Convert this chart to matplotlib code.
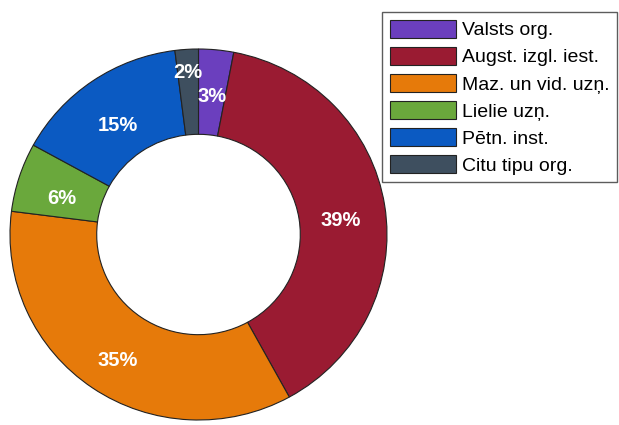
import matplotlib
matplotlib.use("Agg")
import numpy as np
import matplotlib.pyplot as plt

plt.rcParams['font.family'] = ['Liberation Sans', 'DejaVu Sans']

labels = ["Valsts org.", "Augst. izgl. iest.", "Maz. un vid. uzņ.",
          "Lielie uzņ.", "Pētn. inst.", "Citu tipu org."]
shares = [3, 39, 35, 6, 15, 2]
colors = ["#6b3fbe", "#9a1b32", "#e67a0a", "#6aa83c", "#0b5ac2", "#3e4f5f"]
# radial position of each percentage label (fraction of outer radius)
label_r = [0.79, 0.765, 0.765, 0.765, 0.765, 0.92]

fig = plt.figure(figsize=(6.19, 4.25), dpi=100)
# pie axes: outer ring spans x 10..387 px, y 49..420 px
ax = fig.add_axes([10 / 619, 5 / 425, 377 / 619, 371 / 425])

wedges, texts, autotexts = ax.pie(
    shares, colors=colors, startangle=90, counterclock=False,
    autopct='%1.0f%%', pctdistance=0.77,
    wedgeprops=dict(width=0.46, edgecolor='#222222', linewidth=0.8),
    textprops=dict(color='white', fontweight='bold', fontsize=14.5))
ax.set_xlim(-1, 1)
ax.set_ylim(-1, 1)
ax.set_aspect('auto')

# move labels: custom radius, and a small downward nudge like the original
for w, t, r in zip(wedges, autotexts, label_r):
    ang = np.deg2rad((w.theta1 + w.theta2) / 2)
    t.set_position((r * np.cos(ang), r * np.sin(ang) - 0.045))

leg = fig.legend(wedges, labels, loc='upper left', bbox_to_anchor=(382 / 619, 1 - 12 / 425),
                 borderaxespad=0, fontsize=14, frameon=True, fancybox=False,
                 edgecolor='#333333', handlelength=3.4, handleheight=1.05,
                 labelspacing=0.38, handletextpad=0.3, borderpad=0.4)
leg.get_frame().set_linewidth(1.0)

plt.savefig("out.png", dpi=100)
plt.close()
